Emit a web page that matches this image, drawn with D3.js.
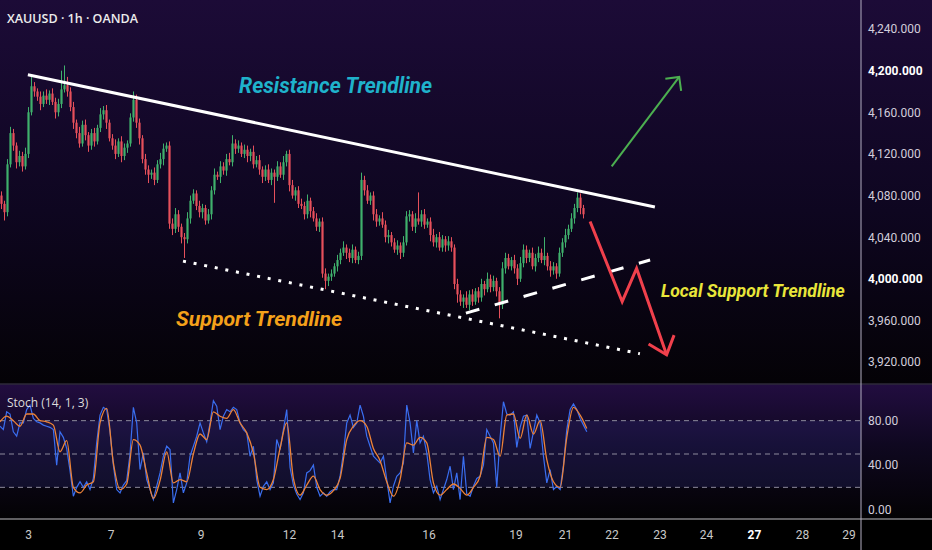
<!DOCTYPE html>
<html>
<head>
<meta charset="utf-8">
<script src="https://cdn.jsdelivr.net/npm/d3@7"></script>
<style>
html, body { margin: 0; padding: 0; background: #000; }
svg { display: block; }
</style>
</head>
<body>
<div id="chart"></div>
<script>
// hourly closes, XAUUSD (open of each bar = previous close)
const firstOpen = 4080;
const closes = [
  4072,4064,4110,4140,4128,4112,4118,4108,4120,4160,
  4185,4180,4175,4168,4176,4172,4178,4170,4160,4168,
  4182,4186,4180,4165,4150,4140,4130,4148,4138,4128,
  4140,4132,4145,4158,4162,4150,4135,4128,4120,4132,
  4118,4126,4130,4155,4172,4150,4135,4115,4105,4100,
  4102,4095,4110,4115,4125,4128,4053,4048,4062,4050,
  4040,4038,4058,4075,4082,4070,4064,4068,4056,4062,
  4085,4100,4098,4108,4104,4115,4112,4130,4125,4128,
  4120,4124,4118,4122,4110,4114,4105,4098,4105,4095,
  4102,4098,4108,4100,4112,4120,4090,4080,4085,4072,
  4070,4062,4075,4065,4058,4050,4055,4005,3998,4002,
  4005,4012,4018,4025,4030,4025,4020,4028,4018,4022,
  4095,4085,4075,4080,4062,4055,4058,4052,4040,4042,
  4035,4028,4032,4025,4035,4060,4062,4050,4058,4055,
  4062,4052,4055,4042,4035,4040,4030,4038,4032,4036,
  4030,3995,3985,3978,3982,3975,3985,3978,3988,3982,
  3995,3990,4000,3992,3998,3988,3975,4010,4020,4012,
  4018,4010,4000,4015,4028,4020,4025,4012,4020,4025,
  4018,4022,4012,4008,4012,4005,4025,4035,4042,4048,
  4058,4068,4078,4068,4062
];
// wick lengths above / below the body
const wickUp = [
  4,3,5,6,4,3,5,4,6,5, 11,4,3,5,4,6,3,5,4,5, 18,19,8,4,5,3,6,4,5,3,
  4,5,3,6,4,5,3,4,6,3, 5,4,3,4,8,5,4,3,5,4, 3,5,4,6,5,3,4,5,6,4,
  3,4,6,5,4,3,5,4,3,5, 4,6,3,5,4,5,6,8,4,5, 3,5,4,3,6,4,5,3,4,5,
  4,3,5,4,6,3,4,5,3,4, 5,4,6,3,4,5,3,4,5,3, 4,3,5,4,6,3,4,5,3,4,
  7,4,5,3,4,5,3,6,4,5, 3,4,5,3,6,5,4,3,5,25, 4,5,3,4,6,3,5,4,3,5,
  4,3,5,4,3,6,4,5,3,4, 5,3,6,4,5,3,4,6,5,4, 3,5,4,6,5,4,3,5,4,6,
  4,18,3,5,4,3,5,4,6,4, 5,4,5,4,3
];
const wickDn = [
  5,8,4,3,5,6,4,5,3,4, 3,5,4,6,3,4,5,3,6,4, 4,3,5,4,6,5,4,3,5,6,
  4,5,3,4,5,6,3,4,5,3, 6,4,5,3,4,5,6,4,5,8, 4,5,3,4,6,3,5,6,4,5,
  6,18,4,5,3,4,5,6,4,3, 5,4,3,6,4,5,3,4,5,4, 3,4,6,5,4,3,5,6,4,3,
  5,25,4,3,5,4,6,3,5,4, 3,5,4,6,3,4,5,4,8,5, 4,3,5,4,3,6,4,5,3,4,
  4,5,3,4,6,5,4,3,5,6, 4,3,5,6,4,3,5,4,6,3, 5,4,3,6,4,5,3,4,6,5,
  4,5,8,4,6,3,5,4,3,5, 4,6,3,5,4,5,13,4,5,3, 4,5,6,3,4,5,4,3,5,4,
  3,5,4,6,4,5,3,4,5,4, 3,5,4,6,4
];

const stochK = [
  75,72,88,86,70,66,78,78,90,94, 82,79,78,76,75,74,72,40,70,65,
  55,35,12,20,25,20,25,18,28,60, 85,92,90,70,40,18,15,22,26,50,
  92,78,36,51,27,18,9,21,33,48, 57,54,6,18,33,15,24,48,57,66,
  78,69,61,78,98,93,72,84,90,88, 92,90,78,72,69,48,57,27,12,21,
  25,18,24,63,54,72,90,38,22,14, 9,15,33,35,40,20,12,15,12,16,
  18,18,30,51,78,85,74,78,94,84, 66,57,48,45,42,48,27,6,21,30,
  33,42,94,78,51,80,60,66,51,27, 15,21,9,18,27,39,18,33,9,48,
  14,12,21,28,30,40,72,66,60,20, 65,97,86,85,88,56,74,84,85,55,
  70,85,78,48,24,36,18,21,18,40, 72,90,95,90,82,76,70
];
const stochD = [
  79,84,80,75,86,86,80,79,76,52, 62,20,15,22,25,78,91,42,18,23,
  63,58,33,10,26,52,24,27,25,50, 68,63,88,84,82,90,78,69,51,20,
  18,27,55,78,28,13,22,30,18,13, 17,28,63,75,80,75,55,44,25,12,
  27,60,58,65,60,24,13,18,23,19, 13,20,30,65,63,48,85,86,64,85,
  68,80,45,25,20,65,92,85,73
];

const priceTicks = [4240, 4200, 4160, 4120, 4080, 4040, 4000, 3960, 3920];
const boldPrices = [4200, 4000];
const dayLabels = ['3', '7', '9', '12', '14', '16', '19', '21', '22', '23', '24', '27', '28', '29'];
const dayBars = [9, 36.5, 66.5, 96, 112, 142.5, 171.5, 188, 203.5, 219.5, 235, 251, 267, 282.5];
const boldDays = ['27'];
const stochTicks = [80, 40, 0];
const stochLevels = [80, 50, 20];

// drawings, in [bar, price]
const resistanceLine = [[8.8, 4196], [217.8, 4069]];
const supportLine = [[60.5, 4017], [212.8, 3928]];
const localSupportLine = [[154.8, 3967], [216.2, 4018]];
const bullPath = [[203.4, 4108], [225.9, 4194]];
const bearPath = [[196.2, 4055], [206.9, 3978], [211.7, 4010], [221.7, 3927]];

const width = 932;
const height = 550;
const axisX = 861;
const mainBottom = 384;
const stochBottom = 519;

const x = d3.scaleLinear().domain([-0.5, 286.5]).range([0, axisX]);
const y = d3.scaleLinear().domain([3898.9, 4267.9]).range([mainBottom, 0]);
const ys = d3.scaleLinear().domain([-8.5, 113]).range([stochBottom, mainBottom]);
const kBar = d3.scaleLinear().domain([0, stochK.length - 1]).range([-0.5, 195.1]);
const dBar = d3.scaleLinear().domain([0, stochD.length - 1]).range([-0.5, 195.1]);

const upColor = '#3fb06c';
const downColor = '#e6505b';

const svg = d3.select('#chart')
    .append('svg')
        .attr('width', width)
        .attr('height', height);

const defs = svg.append('defs');

const mainGrad = defs.append('linearGradient')
    .attr('id', 'mainGrad').attr('x1', 0).attr('y1', 0).attr('x2', 0).attr('y2', 1);
mainGrad.append('stop').attr('offset', '0%').attr('stop-color', '#1c0b37');
mainGrad.append('stop').attr('offset', '55%').attr('stop-color', '#0e0620');
mainGrad.append('stop').attr('offset', '100%').attr('stop-color', '#040206');

const stochGrad = defs.append('linearGradient')
    .attr('id', 'stochGrad').attr('x1', 0).attr('y1', 0).attr('x2', 0).attr('y2', 1);
stochGrad.append('stop').attr('offset', '0%').attr('stop-color', '#220d40');
stochGrad.append('stop').attr('offset', '45%').attr('stop-color', '#0f0820');
stochGrad.append('stop').attr('offset', '100%').attr('stop-color', '#030204');

defs.append('clipPath').attr('id', 'mainClip')
    .append('rect').attr('x', 0).attr('y', 0).attr('width', axisX).attr('height', mainBottom);
defs.append('clipPath').attr('id', 'stochClip')
    .append('rect').attr('x', 0).attr('y', mainBottom).attr('width', axisX).attr('height', stochBottom - mainBottom);

// backgrounds
svg.append('rect').attr('width', width).attr('height', height).attr('fill', '#000');
svg.append('rect').attr('width', width).attr('height', mainBottom).attr('fill', 'url(#mainGrad)');
svg.append('rect').attr('y', mainBottom).attr('width', width).attr('height', stochBottom - mainBottom)
    .attr('fill', 'url(#stochGrad)');

// ---- main pane ----
const mainG = svg.append('g').attr('clip-path', 'url(#mainClip)');

const candles = closes.map((c, i) => {
    const o = i ? closes[i - 1] : firstOpen;
    return {i: i, o: o, c: c, h: Math.max(o, c) + wickUp[i], l: Math.min(o, c) - wickDn[i]};
});

mainG.selectAll('.wick').data(candles).enter()
    .append('line')
    .attr('class', 'wick')
    .attr('x1', d => x(d.i)).attr('x2', d => x(d.i))
    .attr('y1', d => y(d.h)).attr('y2', d => y(d.l))
    .attr('stroke', d => d.c >= d.o ? upColor : downColor)
    .attr('stroke-width', 1);

mainG.selectAll('.body').data(candles).enter()
    .append('rect')
    .attr('class', 'body')
    .attr('x', d => x(d.i) - 1.1)
    .attr('width', 2.2)
    .attr('y', d => y(Math.max(d.o, d.c)))
    .attr('height', d => Math.max(1, Math.abs(y(d.o) - y(d.c))))
    .attr('fill', d => d.c >= d.o ? upColor : downColor);

const pt = p => [x(p[0]), y(p[1])];
const line = d3.line().x(p => x(p[0])).y(p => y(p[1]));

mainG.append('path').attr('d', line(resistanceLine))
    .attr('stroke', '#ffffff').attr('stroke-width', 3).attr('fill', 'none');
mainG.append('path').attr('d', line(supportLine))
    .attr('stroke', '#ffffff').attr('stroke-width', 3).attr('fill', 'none')
    .attr('stroke-dasharray', '3 7.8');
mainG.append('path').attr('d', line(localSupportLine))
    .attr('stroke', '#ffffff').attr('stroke-width', 3).attr('fill', 'none')
    .attr('stroke-dasharray', '14 16');

const arrowHead = (g, from, to, len, ang, color, w) => {
    const a = pt(from), b = pt(to);
    const back = Math.atan2(a[1] - b[1], a[0] - b[0]);
    const r = ang * Math.PI / 180;
    const p1 = [b[0] + len * Math.cos(back + r), b[1] + len * Math.sin(back + r)];
    const p2 = [b[0] + len * Math.cos(back - r), b[1] + len * Math.sin(back - r)];
    g.append('path')
        .attr('d', `M${p1[0]},${p1[1]}L${b[0]},${b[1]}L${p2[0]},${p2[1]}`)
        .attr('stroke', color).attr('stroke-width', w).attr('fill', 'none')
        .attr('stroke-linejoin', 'miter');
};

mainG.append('path').attr('d', line(bullPath))
    .attr('stroke', '#4caf50').attr('stroke-width', 2).attr('fill', 'none');
arrowHead(mainG, bullPath[0], bullPath[1], 14, 45, '#4caf50', 2);

mainG.append('path').attr('d', line(bearPath))
    .attr('stroke', '#f0404c').attr('stroke-width', 3).attr('fill', 'none')
    .attr('stroke-linejoin', 'miter');
arrowHead(mainG, bearPath[2], bearPath[3], 21, 40, '#f0404c', 3);

const noteFont = 'Roboto, "Open Sans", sans-serif';
const note = (bar, price, txt, color, size, len) => {
    svg.append('text')
        .attr('x', x(bar)).attr('y', y(price))
        .attr('font-family', noteFont)
        .attr('font-style', 'italic')
        .attr('font-weight', 700)
        .attr('font-size', size)
        .attr('fill', color)
        .attr('textLength', len)
        .attr('lengthAdjust', 'spacingAndGlyphs')
        .text(txt);
};
note(79.2, 4178.5, 'Resistance Trendline', '#1fb2cb', 22, 193);
note(58.2, 3954.6, 'Support Trendline', '#f4a11a', 21, 166);
note(219.8, 3982.5, 'Local Support Trendline', '#e9e63a', 19, 184);

svg.append('text')
    .attr('x', 7).attr('y', 23)
    .attr('font-family', '"Open Sans", sans-serif')
    .attr('font-weight', 600)
    .attr('font-size', 12.5)
    .attr('fill', '#ececec')
    .text('XAUUSD · 1h · OANDA');

// ---- stochastic pane ----
const stochG = svg.append('g').attr('clip-path', 'url(#stochClip)');

stochG.append('rect')
    .attr('x', 0).attr('width', axisX)
    .attr('y', ys(80)).attr('height', ys(20) - ys(80))
    .attr('fill', '#4a4ac8').attr('opacity', 0.15);

stochG.selectAll('.level').data(stochLevels).enter()
    .append('line')
    .attr('class', 'level')
    .attr('x1', 0).attr('x2', axisX)
    .attr('y1', d => ys(d)).attr('y2', d => ys(d))
    .attr('stroke', '#8d8a9c').attr('stroke-width', 1)
    .attr('stroke-dasharray', '5 4');

stochG.append('path')
    .datum(stochK)
    .attr('d', d3.line().x((v, i) => x(kBar(i))).y(v => ys(v)))
    .attr('stroke', '#3a6ef0').attr('stroke-width', 1.2).attr('fill', 'none');

stochG.append('path')
    .datum(stochD)
    .attr('d', d3.line().curve(d3.curveMonotoneX).x((v, i) => x(dBar(i))).y(v => ys(v)))
    .attr('stroke', '#ec8238').attr('stroke-width', 1.3).attr('fill', 'none');

svg.append('text')
    .attr('x', 7).attr('y', 407)
    .attr('font-family', '"Open Sans", sans-serif')
    .attr('font-size', 12)
    .attr('fill', '#dcdcdc')
    .text('Stoch (14, 1, 3)');

// ---- axes ----
const priceFmt = d3.format(',.3f');
const yAxis = svg.append('g')
    .attr('transform', `translate(${axisX},0)`)
    .call(d3.axisRight(y).tickValues(priceTicks).tickFormat(priceFmt).tickSize(0).tickPadding(7));
yAxis.select('.domain').remove();
yAxis.selectAll('text')
    .attr('font-family', 'Roboto, sans-serif')
    .attr('font-size', 12)
    .attr('fill', d => boldPrices.includes(d) ? '#ffffff' : '#d2cddb')
    .attr('font-weight', d => boldPrices.includes(d) ? 700 : 400);

const sAxis = svg.append('g')
    .attr('transform', `translate(${axisX},0)`)
    .call(d3.axisRight(ys).tickValues(stochTicks).tickFormat(d3.format('.2f')).tickSize(0).tickPadding(7));
sAxis.select('.domain').remove();
sAxis.selectAll('text')
    .attr('font-family', 'Roboto, sans-serif')
    .attr('font-size', 12)
    .attr('fill', '#d2cddb');

const dayScale = d3.scaleOrdinal().domain(dayLabels).range(dayBars.map(b => x(b)));
const xAxis = svg.append('g')
    .attr('transform', `translate(0,${stochBottom})`)
    .call(d3.axisBottom(d3.scalePoint().domain(dayLabels).range([0, 1]))
        .tickSize(0).tickPadding(11));
xAxis.select('.domain').remove();
xAxis.selectAll('.tick').attr('transform', d => `translate(${dayScale(d)},0)`);
xAxis.selectAll('text')
    .attr('font-family', 'Roboto, sans-serif')
    .attr('font-size', 12)
    .attr('fill', d => boldDays.includes(d) ? '#ffffff' : '#c9c9c9')
    .attr('font-weight', d => boldDays.includes(d) ? 700 : 400);

// separators
svg.append('line').attr('x1', 0).attr('x2', width).attr('y1', mainBottom).attr('y2', mainBottom)
    .attr('stroke', '#2e2a3a').attr('stroke-width', 1.5);
svg.append('line').attr('x1', 0).attr('x2', width).attr('y1', stochBottom).attr('y2', stochBottom)
    .attr('stroke', '#bdbbc2').attr('stroke-width', 1.2);
svg.append('line').attr('x1', axisX).attr('x2', axisX).attr('y1', 0).attr('y2', height)
    .attr('stroke', '#b3aec2').attr('stroke-width', 1);
</script>
</body>
</html>
